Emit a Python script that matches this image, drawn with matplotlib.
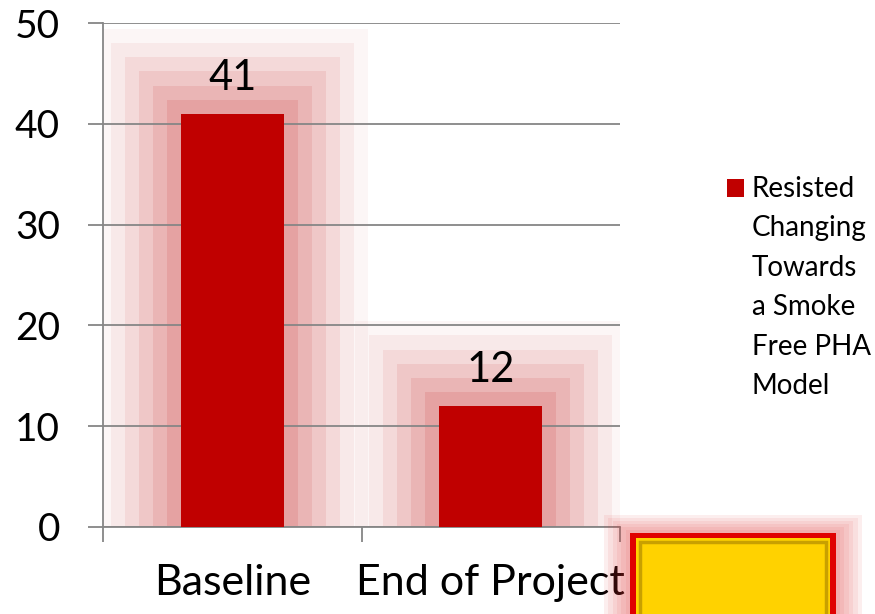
import numpy as np
import matplotlib.pyplot as plt
from matplotlib.patches import Rectangle

plt.rcParams['font.family'] = ['Lato', 'DejaVu Sans']

categories = ['Baseline', 'End of Project']
values = [41, 12]
series_name = 'Resisted\nChanging\nTowards\na Smoke\nFree PHA\nModel'
yticks = [0, 10, 20, 30, 40, 50]

bar_color = '#C00000'
grid_color = '#868686'

fig = plt.figure(figsize=(8.75, 6.14), dpi=100)
ax = fig.add_axes([0.1177, 0.1417, 0.5909, 0.8208])

x = np.arange(len(categories))
width = 0.4

# soft blocky glow around the bars (outer rings fainter)
glow_alpha = [0.10, 0.09, 0.08, 0.065, 0.05, 0.035]
for k in range(6, 0, -1):
    gx = 0.054 * k
    gy = 1.4 * k
    ax.bar(x, [v + gy for v in values], width=width + 2 * gx,
           color=bar_color, alpha=glow_alpha[k - 1], linewidth=0, zorder=1)

bars = ax.bar(x, values, width=width, color=bar_color, zorder=3)

for xi, v in zip(x, values):
    ax.annotate(str(v), (xi, v), xytext=(0, 17), textcoords='offset points',
                ha='center', va='baseline', fontsize=30, zorder=4)

ax.set_xlim(-0.5, 1.5)
ax.set_ylim(0, 50)
ax.set_yticks(yticks)
ax.set_xticks([-0.5, 0.5, 1.5])
ax.set_xticklabels([])
ax.set_xticks(x, minor=True)
ax.set_xticklabels(categories, minor=True)
ax.tick_params(axis='x', which='minor', length=0, pad=27, labelsize=31)
ax.tick_params(axis='x', which='major', length=11, color=grid_color, width=1.3)
ax.tick_params(axis='y', length=11, color=grid_color, width=1.3, pad=20,
               labelsize=28)

ax.grid(axis='y', color=grid_color, linewidth=1.3, zorder=2)
ax.set_axisbelow(False)
for s in ['top', 'right']:
    ax.spines[s].set_visible(False)
for s in ['left', 'bottom']:
    ax.spines[s].set_color(grid_color)
    ax.spines[s].set_linewidth(1.3)
    ax.spines[s].set_zorder(2.5)

# legend: square key next to the top line of a wrapped label
fig.patches.append(Rectangle((0.8309, 0.6792), 0.0194, 0.0293,
                             transform=fig.transFigure, color=bar_color,
                             linewidth=0))
fig.text(0.8594, 0.7134, series_name, ha='left', va='top', fontsize=20,
         linespacing=1.64)

# decorative yellow box in the lower right corner
for k in range(6, 0, -1):
    d = 0.005 * k
    fig.patches.append(Rectangle((0.72 - d, -0.1), 0.235 + 2 * d, 0.232 + d,
                                 transform=fig.transFigure, color='#E03030',
                                 alpha=0.08, linewidth=0))
fig.patches.append(Rectangle((0.72, -0.1), 0.235, 0.232,
                             transform=fig.transFigure, color='#E00000',
                             linewidth=0))
fig.patches.append(Rectangle((0.727, -0.1), 0.221, 0.223,
                             transform=fig.transFigure, color='#FFD200',
                             linewidth=0))
fig.patches.append(Rectangle((0.731, -0.1), 0.213, 0.218,
                             transform=fig.transFigure, facecolor='#FFD200',
                             edgecolor='#C8A000', linewidth=2.5))

fig.savefig('out.png', dpi=100)
